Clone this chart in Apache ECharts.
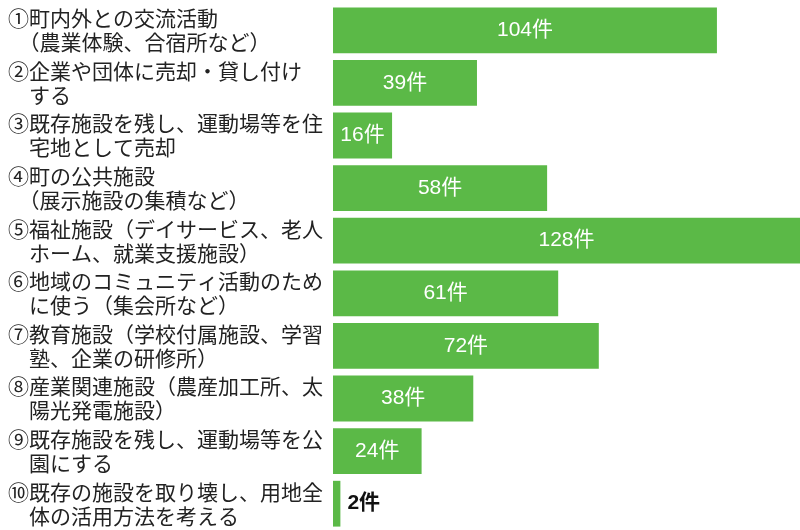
<!DOCTYPE html>
<html>
<head>
<meta charset="utf-8">
<script src="https://cdn.jsdelivr.net/npm/echarts@6/dist/echarts.min.js"></script>
<style>
  html, body { margin: 0; padding: 0; background: #fff; }
  #chart { width: 800px; height: 530px; }
</style>
</head>
<body>
<div id="chart"></div>
<script>
// 項目名（2行目は全角スペースで字下げ）
var categories = [
    '①町内外との交流活動\n\u3000（農業体験、合宿所など）',
    '②企業や団体に売却・貸し付け\n\u3000する',
    '③既存施設を残し、運動場等を住\n\u3000宅地として売却',
    '④町の公共施設\n\u3000（展示施設の集積など）',
    '⑤福祉施設（デイサービス、老人\n\u3000ホーム、就業支援施設）',
    '⑥地域のコミュニティ活動のため\n\u3000に使う（集会所など）',
    '⑦教育施設（学校付属施設、学習\n\u3000塾、企業の研修所）',
    '⑧産業関連施設（農産加工所、太\n\u3000陽光発電施設）',
    '⑨既存施設を残し、運動場等を公\n\u3000園にする',
    '⑩既存の施設を取り壊し、用地全\n\u3000体の活用方法を考える'
];
var counts = [104, 39, 16, 58, 128, 61, 72, 38, 24, 2];
var unit = '件';

var chart = echarts.init(document.getElementById('chart'));

// 小さい棒はラベルを外側に
var barData = counts.map(function (v) {
    if (v < 10) {
        return { value: v, label: { position: 'right', distance: 7, color: '#111', fontWeight: 'bold' } };
    }
    return v;
});

var options = {
    animation: false,
    grid: {
        left: 333,
        right: 0,
        top: 4,
        height: 530
    },
    xAxis: {
        type: 'value',
        min: 0,
        max: 126.5,
        show: false
    },
    yAxis: {
        type: 'category',
        inverse: true,
        data: categories,
        axisLine: { show: false },
        axisTick: { show: false },
        axisLabel: {
            align: 'left',
            margin: 325,
            color: '#222',
            fontSize: 21,
            lineHeight: 24,
            padding: [4, 0, 0, 0],
            fontFamily: '"Noto Sans CJK JP", sans-serif'
        }
    },
    series: [{
        type: 'bar',
        data: barData,
        barCategoryGap: '13%',
        itemStyle: { color: '#5bb947' },
        label: {
            show: true,
            position: 'inside',
            color: '#fff',
            fontSize: 21,
            fontFamily: '"Liberation Sans", "Noto Sans CJK JP", sans-serif',
            formatter: function (p) { return p.value + unit; }
        }
    }]
};
chart.setOption(options);
</script>
</body>
</html>
